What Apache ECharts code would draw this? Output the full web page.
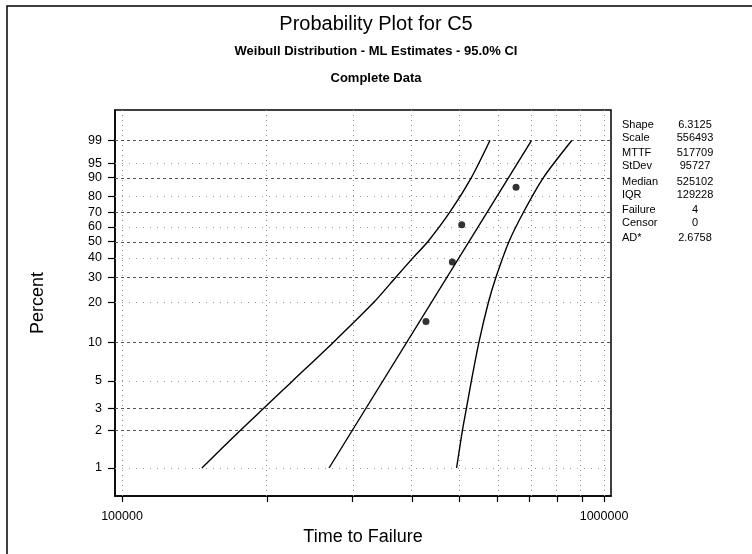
<!DOCTYPE html>
<html>
<head>
<meta charset="utf-8">
<script src="https://cdn.jsdelivr.net/npm/echarts@6/dist/echarts.min.js"></script>
<style>
  html, body { margin: 0; padding: 0; background: #fff; }
  #chart { width: 752px; height: 554px; }
</style>
</head>
<body>
<div id="chart"></div>
<script>
// Weibull probability plot, C5 (ML estimates, 95% CI)
const timeTicks = [100000, 200000, 300000, 400000, 500000, 600000, 700000, 800000, 900000, 1000000];
const timeLabels = [100000, 1000000];
const percentTicks = [1, 2, 3, 5, 10, 20, 30, 40, 50, 60, 70, 80, 90, 95, 99];
const percentGridMajor = [2, 3, 10, 30, 50, 70, 90, 99];
const percentGridMinor = [1, 5, 20, 40, 60, 80, 95];

const failTimes = [427200, 484600, 506800, 656900];
const failPercents = [14.4, 37.8, 61.4, 85.3];

const fitTimes = [268900, 707000];
const fitPercents = [1, 99];

const lowerTimes = [146500, 175700, 196300, 225900, 274300, 333000, 369900, 401200, 430900, 478800, 530700, 579900];
const lowerPercents = [1, 2, 3, 5, 10, 20, 30, 40, 50, 70, 90, 99];

const upperTimes = [494500, 508300, 518100, 530700, 550100, 575700, 596800, 634900, 680600, 748700, 857000];
const upperPercents = [1, 2, 3, 5, 10, 20, 30, 50, 70, 90, 99];

const statNames = ["Shape", "Scale", "MTTF", "StDev", "Median", "IQR", "Failure", "Censor", "AD*"];
const statValues = ["6.3125", "556493", "517709", "95727", "525102", "129228", "4", "0", "2.6758"];
const statRows = [125, 138, 153, 166, 182, 195, 210, 223, 238];

// probability-paper scales: log10 on time, ln(-ln(1-p)) on percent
const lx = (t) => Math.log10(t);
const wy = (p) => Math.log(-Math.log(1 - p / 100));
const pairs = (ts, ps) => ts.map((t, i) => [lx(t), wy(ps[i])]);

const FONT = "Liberation Sans, Arial, sans-serif";
const chart = echarts.init(document.getElementById("chart"), null, { renderer: "canvas" });

const gridLines = [
  ...timeTicks.map((t) => ({ xAxis: lx(t), lineStyle: { color: "#8a8a8a", type: [1, 4], width: 1 } })),
  ...percentGridMajor.map((p) => ({ yAxis: wy(p), lineStyle: { color: "#555", type: [3, 3], width: 1 } })),
  ...percentGridMinor.map((p) => ({ yAxis: wy(p), lineStyle: { color: "#999", type: [1, 6], width: 1 } })),
];

const lineStyle = { color: "#000", width: 1.4 };

chart.setOption({
  animation: false,
  backgroundColor: "#fff",
  textStyle: { fontFamily: FONT },
  title: [
    { text: "Probability Plot for C5", left: "center", top: 9,
      textStyle: { fontSize: 20, fontWeight: "normal", color: "#000", fontFamily: FONT } },
    { text: "Weibull Distribution - ML Estimates - 95.0% CI", left: "center", top: 40,
      textStyle: { fontSize: 13, fontWeight: "bold", color: "#000", fontFamily: FONT } },
    { text: "Complete Data", left: "center", top: 67,
      textStyle: { fontSize: 13, fontWeight: "bold", color: "#000", fontFamily: FONT } },
  ],
  grid: { left: 115, top: 110, width: 496, height: 386, show: true, borderColor: "#000", borderWidth: 1.5, backgroundColor: "transparent" },
  xAxis: {
    type: "value",
    min: 4.9855,
    max: 6.0145,
    name: "Time to Failure",
    nameLocation: "middle",
    nameGap: 28,
    nameTextStyle: { fontSize: 18, color: "#000", fontFamily: FONT },
    axisLine: { show: true, onZero: false, lineStyle: { color: "#000", width: 1.5 } },
    axisTick: { show: true, customValues: timeTicks.map(lx), length: 6, lineStyle: { color: "#000", width: 1.2 } },
    axisLabel: {
      customValues: timeLabels.map(lx),
      formatter: (v) => String(Math.round(Math.pow(10, v))),
      margin: 14, fontSize: 12.5, color: "#000", fontFamily: FONT,
    },
    splitLine: { show: false },
  },
  yAxis: {
    type: "value",
    min: -5.124,
    max: 2.098,
    name: "Percent",
    nameLocation: "middle",
    nameGap: 68,
    nameRotate: 90,
    nameTextStyle: { fontSize: 18, color: "#000", fontFamily: FONT },
    axisLine: { show: true, onZero: false, lineStyle: { color: "#000", width: 1.5 } },
    axisTick: { show: true, customValues: percentTicks.map(wy), length: 7, lineStyle: { color: "#000", width: 1.2 } },
    axisLabel: {
      customValues: percentTicks.map(wy),
      formatter: (v) => String(Math.round(100 * (1 - Math.exp(-Math.exp(v))))),
      margin: 13, fontSize: 12.5, color: "#000", fontFamily: FONT,
    },
    splitLine: { show: false },
  },
  series: [
    {
      name: "fit",
      type: "line",
      data: pairs(fitTimes, fitPercents),
      showSymbol: false,
      lineStyle,
      silent: true,
      z: 3,
      markLine: { silent: true, symbol: ["none", "none"], label: { show: false }, animation: false, data: gridLines, z: 1 },
    },
    { name: "lower", type: "line", data: pairs(lowerTimes, lowerPercents), showSymbol: false, smooth: 0.25, lineStyle, silent: true, z: 3 },
    { name: "upper", type: "line", data: pairs(upperTimes, upperPercents), showSymbol: false, smooth: 0.25, lineStyle, silent: true, z: 3 },
    {
      name: "C5",
      type: "scatter",
      data: pairs(failTimes, failPercents),
      symbol: "circle",
      symbolSize: 7,
      itemStyle: { color: "#000" },
      z: 4,
    },
  ],
  graphic: [
    { type: "rect", shape: { x: 7, y: 6, width: 760, height: 570 }, style: { fill: "none", stroke: "#000", lineWidth: 1.5 }, silent: true },
    ...statNames.map((name, i) => ({
      type: "text", x: 622, y: statRows[i],
      style: { text: name, font: `11px ${FONT}`, fill: "#000", verticalAlign: "middle", align: "left" },
    })),
    ...statValues.map((val, i) => ({
      type: "text", x: 695, y: statRows[i],
      style: { text: val, font: `11px ${FONT}`, fill: "#000", verticalAlign: "middle", align: "center" },
    })),
  ],
});
</script>
</body>
</html>
